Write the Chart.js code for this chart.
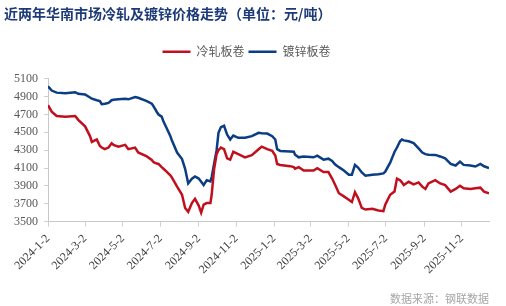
<!DOCTYPE html>
<html>
<head>
<meta charset="utf-8">
<script src="https://cdn.jsdelivr.net/npm/chart.js@4/dist/chart.umd.min.js"></script>
<style>
  html, body { margin: 0; padding: 0; background: #ffffff; }
  #wrap { width: 506px; height: 306px; }
</style>
</head>
<body>
<div id="wrap"><canvas id="chartPrice"></canvas></div>
<script>
// 日期（交易日抽样）
const dates = [
  '2024-01-02','2024-01-08','2024-01-16','2024-01-30','2024-02-15','2024-02-20','2024-03-02','2024-03-10',
  '2024-03-13','2024-03-21','2024-03-26','2024-03-29','2024-04-03','2024-04-09','2024-04-14','2024-04-17',
  '2024-04-25','2024-05-06','2024-05-11','2024-05-22','2024-05-27','2024-06-10','2024-06-18','2024-06-21',
  '2024-06-26','2024-06-29','2024-07-04','2024-07-07','2024-07-12','2024-07-18','2024-07-20','2024-07-29',
  '2024-08-06','2024-08-11','2024-08-16','2024-08-22','2024-08-27','2024-09-02','2024-09-06','2024-09-10',
  '2024-09-15','2024-09-21','2024-09-23','2024-09-27','2024-10-01','2024-10-04','2024-10-08','2024-10-13',
  '2024-10-18','2024-10-23','2024-10-28','2024-11-05','2024-11-16','2024-11-27','2024-12-08','2024-12-13',
  '2024-12-22','2024-12-30','2025-01-04','2025-01-07','2025-01-12','2025-01-28','2025-02-03','2025-02-05',
  '2025-02-11','2025-02-19','2025-03-07','2025-03-13','2025-03-23','2025-03-31','2025-04-06','2025-04-11',
  '2025-04-17','2025-04-25','2025-05-03','2025-05-08','2025-05-13','2025-05-18','2025-05-24','2025-05-30',
  '2025-06-10','2025-06-20','2025-06-28','2025-07-01','2025-07-09','2025-07-16','2025-07-20','2025-07-25',
  '2025-07-28','2025-07-31','2025-08-08','2025-08-16','2025-08-24','2025-08-30','2025-09-04','2025-09-09',
  '2025-09-20','2025-09-28','2025-10-06','2025-10-15','2025-10-23','2025-10-30','2025-11-05','2025-11-16',
  '2025-11-24','2025-12-02','2025-12-08','2025-12-16'
];

// 冷轧板卷（元/吨）
const coldRolled = [
  4804, 4731, 4684, 4676, 4684, 4640, 4567, 4458, 4392, 4420, 4347, 4330, 4311, 4330, 4377, 4360,
  4340, 4360, 4311, 4329, 4274, 4230, 4190, 4165, 4150, 4146, 4110, 4092, 4060, 4019, 4000, 3891,
  3800, 3653, 3610, 3708, 3755, 3680, 3599, 3690, 3708, 3708, 3800, 4092, 4256, 4300, 4329, 4311,
  4209, 4194, 4282, 4256, 4220, 4245, 4311, 4340, 4311, 4292, 4240, 4146, 4135, 4121, 4110, 4092,
  4110, 4073, 4073, 4099, 4055, 4055, 3982, 3909, 3818, 3782, 3745, 3719, 3829, 3763, 3653, 3635,
  3643, 3624, 3617, 3690, 3800, 3836, 3982, 3964, 3940, 3909, 3946, 3917, 3939, 3891, 3866, 3927,
  3964, 3927, 3909, 3836, 3866, 3902, 3873, 3866, 3873, 3880, 3836, 3818
];

// 镀锌板卷（元/吨）
const galvanized = [
  5016, 4968, 4945, 4939, 4950, 4932, 4925, 4890, 4877, 4860, 4851, 4815, 4820, 4830, 4860, 4866,
  4870, 4877, 4870, 4895, 4888, 4851, 4822, 4790, 4731, 4700, 4676, 4620, 4548, 4460, 4420, 4274,
  4201, 4092, 3927, 3980, 4005, 3982, 3946, 3909, 3964, 3950, 4000, 4150, 4300, 4494, 4559, 4574,
  4475, 4420, 4464, 4439, 4439, 4457, 4494, 4490, 4486, 4457, 4420, 4311, 4292, 4285, 4282, 4250,
  4220, 4230, 4220, 4238, 4194, 4205, 4180, 4140, 4110, 4073, 4026, 4026, 4135, 4105, 4050, 4015,
  4026, 4030, 4040, 4060, 4160, 4280, 4330, 4400, 4420, 4410, 4400, 4380, 4320, 4274, 4256, 4250,
  4247, 4230, 4209, 4146, 4128, 4172, 4135, 4128, 4117, 4146, 4120, 4099
];

// 横轴刻度
const tickLabels = ['2024-1-2','2024-3-2','2024-5-2','2024-7-2','2024-9-2','2024-11-2',
                    '2025-1-2','2025-3-2','2025-5-2','2025-7-2','2025-9-2','2025-11-2'];

// ==================== 工具 ====================
function dayOf(str) {
  const p = str.split('-').map(Number);
  const t0 = Date.UTC(2024, 0, 2);
  return Math.round((Date.UTC(p[0], p[1] - 1, p[2]) - t0) / 86400000);
}

const toPoints = arr => arr.map((v, i) => ({ x: dayOf(dates[i]), y: v }));

const axisFont = { family: '"Liberation Serif", "Times New Roman", serif', size: 12 };
const cjkFont = '"Noto Sans CJK SC", "Noto Sans", sans-serif';

// 图例与绘图区之间留白
const legendGap = {
  id: 'legendGap',
  beforeInit(chart) {
    const fit = chart.legend.fit;
    chart.legend.fit = function() {
      fit.call(this);
      this.height += 11;
    };
  }
};

new Chart(document.getElementById('chartPrice').getContext('2d'), {
  type: 'line',
  data: {
    datasets: [
      {
        label: '冷轧板卷',
        data: toPoints(coldRolled),
        borderColor: '#c0101e',
        backgroundColor: '#c0101e',
        borderWidth: 2.5,
        pointRadius: 0,
        tension: 0
      },
      {
        label: '镀锌板卷',
        data: toPoints(galvanized),
        borderColor: '#0a3d82',
        backgroundColor: '#0a3d82',
        borderWidth: 2.5,
        pointRadius: 0,
        tension: 0
      }
    ]
  },
  options: {
    responsive: true,
    maintainAspectRatio: false,
    animation: false,
    layout: { padding: { left: 4, right: 17, top: 0, bottom: 0 } },
    scales: {
      x: {
        type: 'linear',
        min: 0,
        max: dayOf(dates[dates.length - 1]),
        afterBuildTicks: axis => { axis.ticks = tickLabels.map(s => ({ value: dayOf(s) })); },
        ticks: {
          autoSkip: false,
          minRotation: 45,
          maxRotation: 45,
          padding: 5,
          color: '#404040',
          font: axisFont,
          callback: (value, index) => tickLabels[index]
        },
        grid: { drawOnChartArea: false, tickLength: 5, color: '#d0d0d0' },
        border: { color: '#c8c8c8' }
      },
      y: {
        min: 3500,
        max: 5100,
        afterFit: scale => { scale.width = 44; },
        ticks: {
          stepSize: 200,
          padding: 6,
          color: '#595959',
          font: axisFont,
          callback: value => String(value)
        },
        grid: { drawOnChartArea: false, tickLength: 4, color: '#d0d0d0' },
        border: { color: '#c8c8c8' }
      }
    },
    plugins: {
      title: {
        display: true,
        text: '近两年华南市场冷轧及镀锌价格走势（单位：元/吨）',
        align: 'start',
        color: '#1d3a78',
        font: { family: cjkFont, size: 14, weight: 'bold' },
        padding: { top: 5, bottom: 20 }
      },
      legend: {
        position: 'top',
        labels: {
          usePointStyle: true,
          pointStyle: 'line',
          pointStyleWidth: 28,
          boxHeight: 12,
          padding: 4,
          color: '#595959',
          font: { family: cjkFont, size: 12 }
        }
      },
      subtitle: {
        display: true,
        text: '数据来源：钢联数据',
        position: 'bottom',
        align: 'end',
        color: '#a6a6a6',
        font: { family: cjkFont, size: 11 },
        padding: { top: 10, bottom: 1 }
      },
      tooltip: { enabled: false }
    }
  },
  plugins: [legendGap]
});
</script>
</body>
</html>
